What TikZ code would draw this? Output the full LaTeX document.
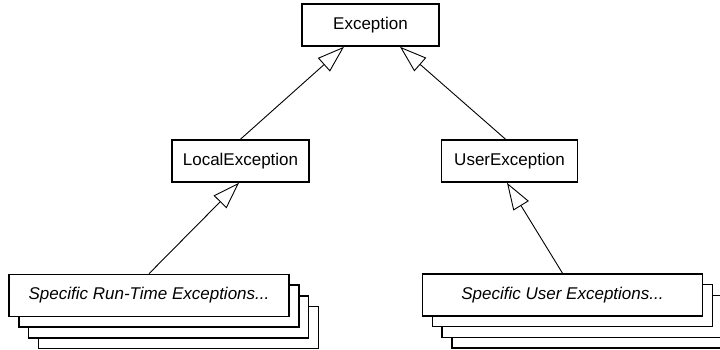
\documentclass[tikz,border=0pt]{standalone}
\usepackage{fontspec}
\setmainfont{Liberation Sans}
\usetikzlibrary{arrows.meta, positioning, calc}
\tikzset{
  cls/.style={draw, line width=1.6pt, fill=white, inner sep=0pt,
    minimum width=137pt, minimum height=42pt, font=\fontsize{17}{20}\selectfont},
  many/.style={cls, minimum width=280pt, minimum height=42pt,
    font=\fontsize{17}{20}\selectfont\itshape},
  isa/.style={-{Triangle[open, length=27pt, width=18pt]}, line width=0.9pt}
}
\begin{document}
\begin{tikzpicture}[x=1pt,y=1pt]
\useasboundingbox (0,0) rectangle (720,350);
% classes
\node[cls] (exc) at (370.5,325) {Exception};
\node[cls] (loc) at (240.5,189) {LocalException};
\node[cls, minimum width=136pt] (usr) at (509.5,189) {UserException};
% stacked subclasses
\coordinate (rtc) at (149,54.5);
\coordinate (usc) at (562.5,55);
\foreach \i in {3,2,1}{
  \node[many] (rt\i) at ($(rtc)+(\i*9.8,-\i*10.7)$) {};
  \node[many] (us\i) at ($(usc)+(\i*9.8,-\i*10.7)$) {};
}
\node[many] (rt) at (rtc) {Specific Run-Time Exceptions...};
\node[many] (us) at (usc) {Specific User Exceptions...};
% generalisation
\draw[isa] (loc.north) -- ([xshift=-26.5pt]exc.south);
\draw[isa] ([xshift=-4pt]usr.north) -- ([xshift=29.5pt]exc.south);
\draw[isa] (rt.north) -- ([xshift=-1.5pt]loc.south);
\draw[isa] (us.north) -- ([xshift=-2.5pt]usr.south);
\end{tikzpicture}
\end{document}
